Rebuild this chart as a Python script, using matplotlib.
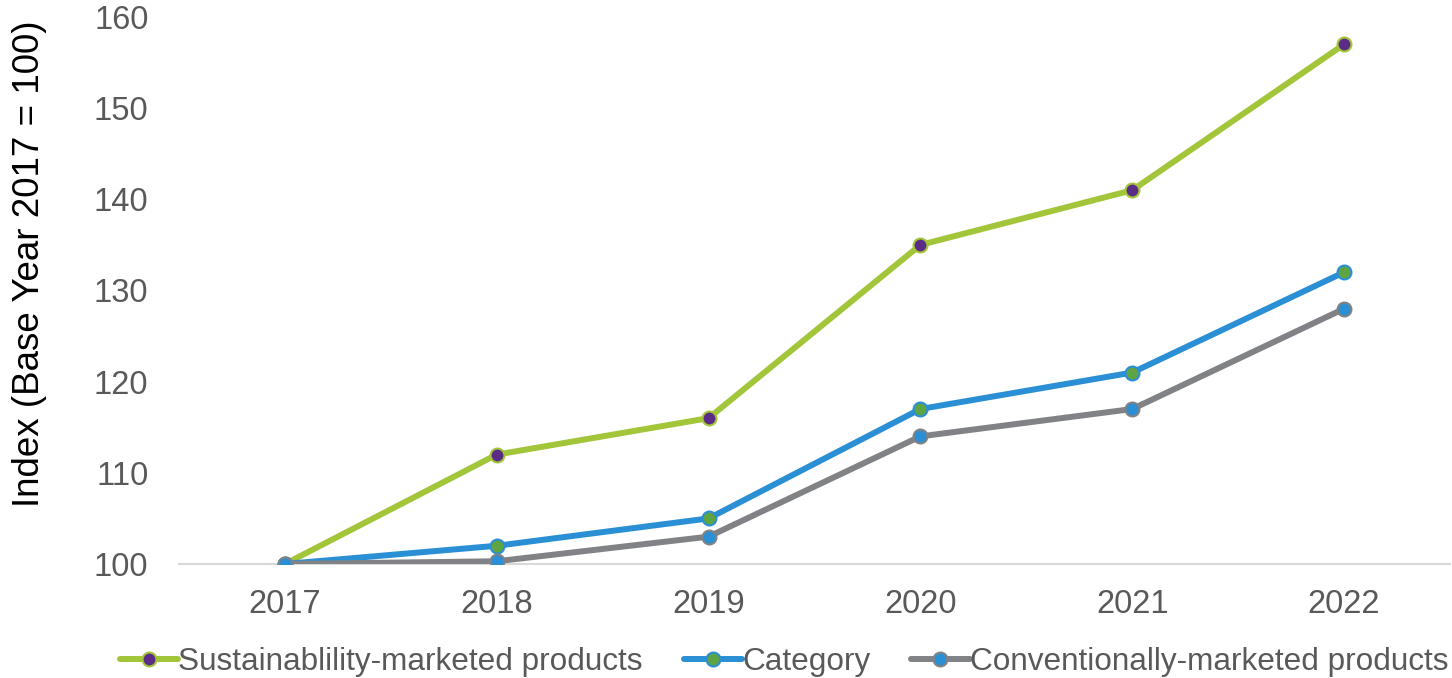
import matplotlib
matplotlib.use("Agg")
import matplotlib.pyplot as plt

years = ["2017", "2018", "2019", "2020", "2021", "2022"]
sustainability = [100, 112, 116, 135, 141, 157]
category = [100, 102, 105, 117, 121, 132]
conventional = [100, 100.3, 103, 114, 117, 128]
series_labels = ["Sustainablility-marketed products", "Category", "Conventionally-marketed products"]
y_ticks = [100, 110, 120, 130, 140, 150, 160]

plt.rcParams['font.family'] = ['Liberation Sans', 'DejaVu Sans']

fig = plt.figure(figsize=(14.52, 6.78), dpi=100)
ax = fig.add_axes([179/1452, 1-564/678, (1450-179)/1452, (564-17)/678])

x = list(range(len(years)))
styles = [
    (sustainability, "#A2C539", "#5B2C86"),
    (category, "#2A8FD4", "#5EA443"),
    (conventional, "#808285", "#2A8FD4"),
]
for (vals, lc, mc), lab in zip(styles, series_labels):
    ax.plot(x, vals, color=lc, lw=4.3, marker='o', markersize=10,
            markerfacecolor=mc, markeredgecolor=lc, markeredgewidth=1.5,
            label=lab, solid_capstyle='round', zorder=3)

ax.set_xlim(-0.5, len(years) - 0.5)
ax.set_ylim(100, 160)
ax.set_xticks(x)
ax.set_xticklabels(years)
ax.set_yticks(y_ticks)
for s in ['top', 'right', 'left']:
    ax.spines[s].set_visible(False)
ax.spines['bottom'].set_color('#D9D9D9')
ax.spines['bottom'].set_linewidth(1.5)
ax.tick_params(axis='both', length=0, labelsize=23.5, colors='#595959')
ax.tick_params(axis='x', pad=18)
ax.tick_params(axis='y', pad=22)
ax.set_ylabel("Index (Base Year 2017 = 100)", fontsize=26.5, color='#000000',
              va='center', ha='center')
ax.yaxis.set_label_coords((30 - 179) / 1271, (564 - 264) / 547)
for lbl in ax.get_yticklabels() + ax.get_xticklabels():
    lbl.set_clip_on(False)

leg = ax.legend(loc='upper center', bbox_to_anchor=(0.476, -0.152), ncol=3, frameon=False,
                fontsize=22.7, handlelength=1.85, handletextpad=0.0, columnspacing=1.3,
                labelcolor='#595959', borderaxespad=0, borderpad=0)

fig.savefig("out.png", dpi=100)
